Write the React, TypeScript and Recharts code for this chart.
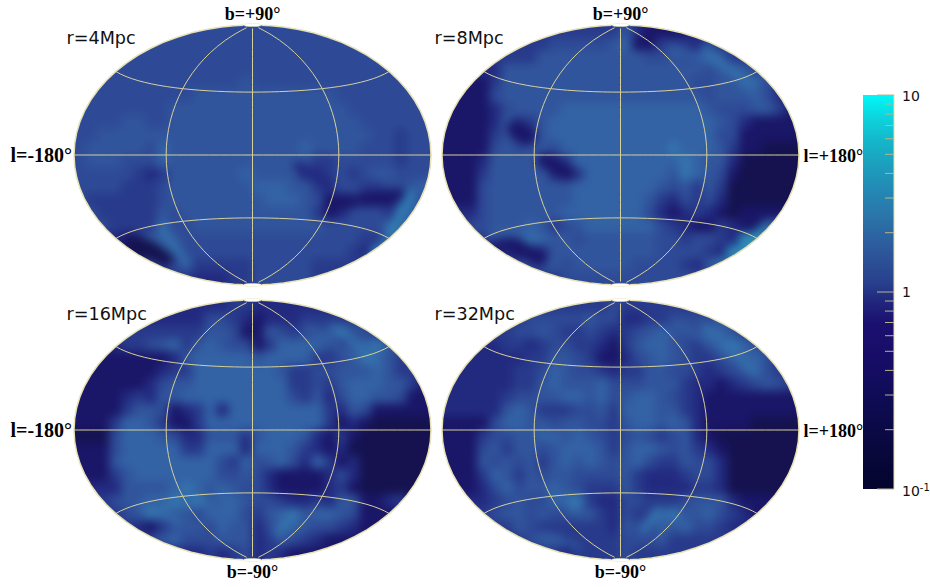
import React from "react";
import { ScatterChart, Scatter, XAxis, YAxis, ComposedChart, Bar } from "recharts";

const W = 357, H = 260, COLS = 30, ROWS = 20, PAD = 20;
const LEVEL_COLORS = ["#15124f","#1a1668","#222a80","#283a8b","#2e4a96","#31559c","#3362a5","#3474ae","#2f8dba","#2ba5c8"];

const MAP_4 = [
"444444444444444444444444444444",
"444444444444444444444444444444",
"444444444444444444444444444444",
"444444444444444444444444444444",
"444444444444445444444444444444",
"444444444455555555555544444444",
"444444445555555555555554444444",
"444455445555555555555555444444",
"445555555555555555555555544344",
"455555465555555555565555444344",
"455544465555555555553344444344",
"444443235555556555522343455444",
"444433345555555666553344334456",
"433333345555555566654112111364",
"443333354555555555553124443665",
"444333364455555555555444446666",
"222213465444444444444444336777",
"111110016444444444444443277777",
"222222434533333444443333333333",
"333333333322233444443333333333",
];
const MAP_8 = [
"333333333333333521111222222222",
"222233333444445611333243333333",
"222233335555555554454465333333",
"222225555555555555555545654444",
"111135555555555555555445566422",
"111145555555555555555545555422",
"111124555566666666666654445531",
"111125335666666666666665421111",
"111135125666666666666664411111",
"111145455466666666676665311000",
"111255553236666666667655200000",
"111355555213666666657654100000",
"111455555556666666545353000000",
"111455555556666665324342000000",
"222455555566666664212321011111",
"224455565345666666432113211666",
"333325676554555555443443288888",
"111112112555555555444432888888",
"222222445545555544443255555555",
"333333333344444444444433333333",
];
const MAP_16 = [
"222222222222233222222222222222",
"222222222224432122233333333333",
"333333333335541154344575433333",
"222233456356544136666435675444",
"111111112566666566663345765333",
"111111123366666665334455565333",
"111111245566666666334356665531",
"111123255666666666435246655411",
"111135541236266666666325411111",
"111366531136666666666312100000",
"000466654225553566652131000000",
"111466666336662666532120000000",
"111566666666436456426312000000",
"111356666666445421111242000000",
"222255556765654421111231000000",
"333455667675665443223255112311",
"333345765546664356756654111111",
"222232135554655246654432111111",
"222222456444555235432111111111",
"222222222223234232111111111111",
];
const MAP_32 = [
"333333333333334333333333333333",
"333333344444544223344445333333",
"222333445433432345654466533333",
"222223323443321356654345764444",
"222222233554311245654334566433",
"222222334654432335544323456432",
"222222335655564445553221234543",
"222223445566564566543211111111",
"222225653334453666553211111111",
"111146655455443566565211110000",
"111344556656543454345210000000",
"111453554566653566545321000000",
"111545453565654564335442000000",
"111365354554444532223442000000",
"111246455654333532222332000000",
"222234544667322443334555211111",
"333345545445532433675564321111",
"333333543333332543656443222222",
"333333345533333444533333333333",
"333333333323333433333333333333",
];

// thin features seen on each map: level, stroke width, points as [col, row] in map cells
type Streak = { level: number; width: number; pts: [number, number][] };
const STREAKS_4: Streak[] = [
  { level: 0, width: 18, pts: [[5.2, 16.9], [7.7, 17.8]] },
  { level: 1, width: 14, pts: [[22.1, 13.7], [23.3, 13.6]] },
  { level: 1, width: 10, pts: [[24.4, 13.2], [27.4, 13.0]] },
  { level: 2, width: 12, pts: [[18.9, 10.9], [21.5, 12.3]] },
  { level: 8, width: 6, pts: [[28.3, 12.9], [26.6, 16.0]] },
  { level: 8, width: 4, pts: [[26.3, 16.6], [24.6, 18.2]] },
  { level: 7, width: 6, pts: [[7.3, 15.5], [9.5, 18.3]] },
  { level: 6, width: 5, pts: [[6.2, 16.0], [9.0, 18.0]] },
];
const STREAKS_8: Streak[] = [
  { level: 6, width: 6, pts: [[19.2, 1.7], [24.2, 3.5], [26.8, 6.0]] },
  { level: 7, width: 7, pts: [[22.0, 1.9], [26.0, 4.5]] },
  { level: 1, width: 18, pts: [[6.2, 8.0], [7.2, 8.6]] },
  { level: 1, width: 15, pts: [[8.6, 10.4], [10.6, 11.4]] },
  { level: 1, width: 15, pts: [[5.3, 16.5], [8.2, 18.0]] },
  { level: 8, width: 5, pts: [[27.0, 15.5], [25.7, 16.6]] },
  { level: 8, width: 4, pts: [[25.6, 16.9], [22.9, 18.4]] },
  { level: 6, width: 6, pts: [[4.0, 16.2], [7.8, 16.0]] },
];
const STREAKS_16: Streak[] = [
  { level: 7, width: 6, pts: [[21.8, 2.0], [25.5, 4.9]] },
  { level: 6, width: 5, pts: [[19.6, 2.0], [23.5, 4.4]] },
  { level: 2, width: 9, pts: [[14.3, 10.8], [14.3, 11.5]] },
  { level: 7, width: 6, pts: [[7.6, 15.9], [11.2, 15.6]] },
  { level: 7, width: 8, pts: [[18.2, 16.7], [17.1, 17.9]] },
  { level: 7, width: 5, pts: [[5.6, 15.8], [8.8, 17.0]] },
];
const STREAKS_32: Streak[] = [
  { level: 7, width: 6, pts: [[22.0, 2.0], [26.2, 5.6]] },
  { level: 6, width: 5, pts: [[19.8, 1.8], [24.2, 4.4]] },
  { level: 7, width: 9, pts: [[18.1, 16.2], [17.0, 17.7]] },
  { level: 7, width: 8, pts: [[10.8, 15.2], [11.0, 16.1]] },
  { level: 6, width: 5, pts: [[8.3, 18.0], [11.5, 19.0]] },
];

const PANELS = [
  { id: "r4", map: MAP_4, streaks: STREAKS_4, cx: 252, cy: 155, name: "r=4Mpc", nameX: 66, nameY: 44, side: "l=-180°", sideX: 10, sideSize: 20, pole: "b=+90°", poleY: 20 },
  { id: "r8", map: MAP_8, streaks: STREAKS_8, cx: 620, cy: 155, name: "r=8Mpc", nameX: 434, nameY: 44, side: "l=+180°", sideX: 803, sideSize: 18, pole: "b=+90°", poleY: 20 },
  { id: "r16", map: MAP_16, streaks: STREAKS_16, cx: 252, cy: 430, name: "r=16Mpc", nameX: 66, nameY: 320, side: "l=-180°", sideX: 10, sideSize: 20, pole: "b=-90°", poleY: 578 },
  { id: "r32", map: MAP_32, streaks: STREAKS_32, cx: 620, cy: 430, name: "r=32Mpc", nameX: 434, nameY: 320, side: "l=+180°", sideX: 803, sideSize: 18, pole: "b=-90°", poleY: 578 },
];

const LATITUDES = [-40, 0, 40];
const LONGITUDES = [-80, 0, 80];
const EDGE = [-180, 180];
const LAT_SAMPLES = [-87,-84,-80,-75,-70,-65,-60,-55,-50,-45,-40,-35,-30,-25,-20,-15,-10,-5,0,5,10,15,20,25,30,35,40,45,50,55,60,65,70,75,80,84,87];
const LON_SAMPLES = [-180,-170,-160,-150,-140,-130,-120,-110,-100,-90,-80,-70,-60,-50,-40,-30,-20,-10,0,10,20,30,40,50,60,70,80,90,100,110,120,130,140,150,160,170,180];

const CB_TICKS = [0.1,0.2,0.3,0.4,0.5,0.6,0.7,0.8,0.9,1,2,3,4,5,6,7,8,9,10];
const CB_STOPS: [number, string][] = [
  [0, "#04042f"],[0.08, "#070739"],[0.16, "#0b0a48"],[0.25, "#100c58"],[0.33, "#170d68"],[0.42, "#1b106f"],[0.48, "#21287e"],
  [0.52, "#283f8d"],[0.58, "#2c5096"],[0.64, "#2c63a0"],[0.7, "#2a77ab"],[0.76, "#2389b4"],[0.82, "#1c9ebd"],[0.88, "#15b5c9"],[0.94, "#0dd2dc"],[1, "#00f8f8"],
];
const CB_DATA = [{ name: "scale", range: [0.1, 10] }];

const rad = Math.PI / 180;
function hammer(l: number, b: number) {
  const z = Math.sqrt(1 + Math.cos(b * rad) * Math.cos((l / 2) * rad));
  return { x: (Math.cos(b * rad) * Math.sin((l / 2) * rad)) / z, y: Math.sin(b * rad) / z };
}

function cells(map: string[]) {
  const out: { col: number; row: number; level: number }[] = [];
  map.forEach((rowText, row) => {
    const t = rowText.padEnd(COLS, rowText[rowText.length - 1]);
    for (let col = 0; col < COLS; col++) out.push({ col: col + 0.5, row: row + 0.5, level: Number(t[col]) });
  });
  return out;
}

const CellShape = (p: any) => {
  const cw = W / COLS, ch = H / ROWS;
  const { cx, cy, payload } = p;
  let x0 = cx - cw / 2 - 0.5, x1 = cx + cw / 2 + 0.5, y0 = cy - ch / 2 - 0.5, y1 = cy + ch / 2 + 0.5;
  if (payload.col < 1) x0 -= PAD;
  if (payload.col > COLS - 1) x1 += PAD;
  if (payload.row < 1) y0 -= PAD;
  if (payload.row > ROWS - 1) y1 += PAD;
  return <rect x={x0} y={y0} width={x1 - x0} height={y1 - y0} fill={LEVEL_COLORS[payload.level]} />;
};

const NoPoint = () => <g />;
const STROKE = "#d6d09a";
const OUTLINE = "#e8e2b4";
const M = { left: 80, right: 80, top: 30, bottom: 30 };

function HeatPanel({ p }: { p: (typeof PANELS)[number] }) {
  return (
    <div style={{ position: "absolute", left: p.cx - W / 2, top: p.cy - H / 2, width: W, height: H, borderRadius: "50%", overflow: "hidden", background: "#2e4a96" }}>
      <div style={{ position: "absolute", left: -PAD, top: -PAD, filter: "blur(4.6px)" }}>
        <ScatterChart width={W + 2 * PAD} height={H + 2 * PAD} margin={{ left: PAD, right: PAD, top: PAD, bottom: PAD }}>
          <XAxis type="number" dataKey="col" domain={[0, COLS]} hide />
          <YAxis type="number" dataKey="row" domain={[0, ROWS]} reversed hide />
          <Scatter data={cells(p.map)} shape={CellShape} isAnimationActive={false} />
          {p.streaks.map((s, i) => (
            <Scatter
              key={i}
              data={s.pts.map(([col, row]) => ({ col, row }))}
              line={{ stroke: LEVEL_COLORS[s.level], strokeWidth: s.width, strokeLinecap: "round", strokeLinejoin: "round" }}
              shape={NoPoint}
              isAnimationActive={false}
            />
          ))}
        </ScatterChart>
      </div>
    </div>
  );
}

function Overlay({ p }: { p: (typeof PANELS)[number] }) {
  const left = p.cx - W / 2 - M.left;
  const top = p.cy - H / 2 - M.top;
  const meridians = LONGITUDES.map((l) => LAT_SAMPLES.map((b) => hammer(l, b)));
  const parallels = LATITUDES.map((b) => LON_SAMPLES.map((l) => hammer(l, b)));
  const outline = EDGE.map((l) => LAT_SAMPLES.map((b) => hammer(l, b)));
  return (
    <div style={{ position: "absolute", left, top }}>
      <ScatterChart width={W + M.left + M.right} height={H + M.top + M.bottom} margin={M} style={{ overflow: "visible" }}>
        <XAxis type="number" dataKey="x" domain={[-1, 1]} hide />
        <YAxis type="number" dataKey="y" domain={[-1, 1]} hide />
        {meridians.concat(parallels).map((d, i) => (
          <Scatter key={"g" + i} data={d} line={{ stroke: STROKE, strokeWidth: 1 }} shape={NoPoint} isAnimationActive={false} />
        ))}
        {outline.map((d, i) => (
          <Scatter key={"o" + i} data={d} line={{ stroke: OUTLINE, strokeWidth: 1.5 }} shape={NoPoint} isAnimationActive={false} />
        ))}
        <Scatter
          data={[{ x: 0, y: 1 }, { x: 0, y: -1 }]}
          isAnimationActive={false}
          shape={(s: any) => <ellipse cx={s.cx} cy={s.cy} rx={9} ry={1.6} fill="#ffffff" stroke={OUTLINE} strokeWidth={0.5} />}
        />
        <Scatter
          data={[{ x: 0, y: 0 }]}
          isAnimationActive={false}
          shape={() => (
            <g>
              <text x={p.nameX - left} y={p.nameY - top} fontFamily="DejaVu Sans" fontSize={17.6} fill="#111">{p.name}</text>
              <text x={p.sideX - left} y={p.cy + 7 - top} fontFamily="Liberation Serif" fontWeight="bold" fontSize={p.sideSize} fill="#000">{p.side}</text>
              <text x={p.cx - left} y={p.poleY - top} textAnchor="middle" fontFamily="Liberation Serif" fontWeight="bold" fontSize={18} fill="#000">{p.pole}</text>
            </g>
          )}
        />
      </ScatterChart>
    </div>
  );
}

const CbTick = (t: any) => {
  const v = t.payload.value;
  const major = v === 1 || v === 10 || v === 0.1;
  const len = major ? 17 : 9;
  return (
    <g>
      <line x1={t.x - len} x2={t.x} y1={t.y} y2={t.y} stroke={major ? "#b8b48e" : "#b9b58a"} strokeWidth={1} />
      {v === 10 && <text x={t.x + 8} y={t.y + 6} fontFamily="DejaVu Sans" fontSize={14} fill="#111">10</text>}
      {v === 1 && <text x={t.x + 8} y={t.y + 5} fontFamily="DejaVu Sans" fontSize={14} fill="#111">1</text>}
      {v === 0.1 && (
        <text x={t.x + 8} y={t.y + 7} fontFamily="DejaVu Sans" fontSize={14} fill="#111">
          10<tspan dy={-5} fontSize={10}>-1</tspan>
        </text>
      )}
    </g>
  );
};

function ColorBar() {
  return (
    <div style={{ position: "absolute", left: 850, top: 0 }}>
      <ComposedChart width={80} height={587} data={CB_DATA} margin={{ left: 13, right: 0, top: 95, bottom: 98 }} barCategoryGap={0}>
        <defs>
          <linearGradient id="cb" x1="0" y1="1" x2="0" y2="0">
            {CB_STOPS.map(([o, c]) => (
              <stop key={o} offset={o} stopColor={c} />
            ))}
          </linearGradient>
        </defs>
        <XAxis dataKey="name" hide />
        <YAxis
          orientation="right"
          width={36}
          scale="log"
          domain={[0.1, 10]}
          ticks={CB_TICKS}
          interval={0}
          allowDataOverflow
          tickLine={false}
          tickSize={0}
          tickMargin={0}
          axisLine={{ stroke: "#e3deb0" }}
          tick={CbTick}
        />
        <Bar dataKey="range" fill="url(#cb)" isAnimationActive={false} />
      </ComposedChart>
    </div>
  );
}

export default function App() {
  return (
    <div style={{ position: "absolute", left: 0, top: 0, width: 930, height: 587, overflow: "hidden", background: "#fff" }}>
      {PANELS.map((p) => <HeatPanel key={p.id} p={p} />)}
      {PANELS.map((p) => <Overlay key={p.id} p={p} />)}
      <ColorBar />
    </div>
  );
}
